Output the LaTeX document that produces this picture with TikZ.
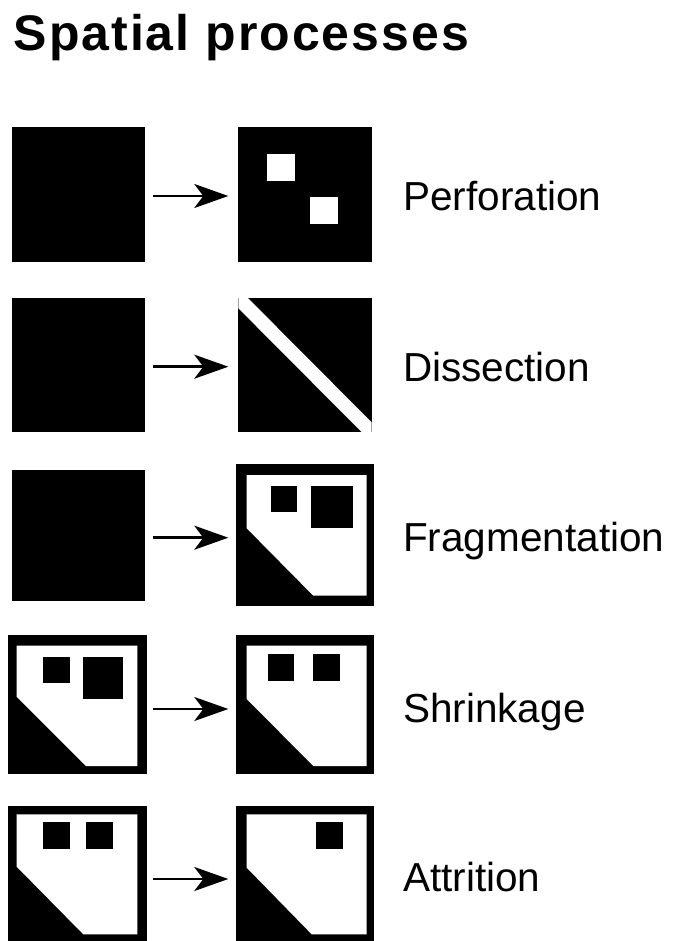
\documentclass[tikz,border=0pt]{standalone}
\usepackage{fontspec}
\setmainfont{Liberation Sans}
\usetikzlibrary{arrows.meta}

\begin{document}
\begin{tikzpicture}[x=1pt,y=-1pt,
  solidbox/.style={fill=black,draw=none,inner sep=0pt,outer sep=0pt},
  hole/.style={fill=white},
  bit/.style={fill=black},
  procarrow/.style={line width=2.6pt,-{Stealth[length=34pt,width=24pt,inset=9pt]}},
  label/.style={anchor=base west,inner sep=0pt,font=\fontsize{40.5}{48}\selectfont},
]
\useasboundingbox (0,0) rectangle (674,941);

% title
\node[anchor=base west,inner sep=0pt,
      font=\fontsize{50}{60}\selectfont\bfseries\addfontfeatures{LetterSpace=4}]
  (title) at (13.5,50.7) {Spatial processes};

% rows: y of the arrows
\coordinate (r1) at (0,196);
\coordinate (r2) at (0,366.7);
\coordinate (r3) at (0,537.7);
\coordinate (r4) at (0,709);
\coordinate (r5) at (0,879);

% ---------- Perforation ----------
\node[solidbox,minimum width=133.3pt,minimum height=134.4pt] (a1) at (78.35,194.5) {};
\node[solidbox,minimum width=134pt,minimum height=134.4pt] (b1) at (305.3,194.5) {};
\fill[hole] (267.3,154) rectangle (294.7,181);
\fill[hole] (310.3,197.3) rectangle (337.7,224);
\draw[procarrow,shorten <=7.7pt,shorten >=10pt] (a1.east |- r1) -- (b1.west |- r1);
\node[label] (l1) at (403,211) {Perforation};

% ---------- Dissection ----------
\node[solidbox,minimum width=133.3pt,minimum height=134pt] (a2) at (78.35,365.3) {};
\node[solidbox,minimum width=133.4pt,minimum height=134pt] (b2) at (305,365.3) {};
\begin{scope}
  \clip (b2.south west) rectangle (b2.north east);
  \draw[white,line width=14pt] (b2.north west) -- (b2.south east);
\end{scope}
\draw[procarrow,shorten <=7.7pt,shorten >=10pt] (a2.east |- r2) -- (b2.west |- r2);
\node[label] (l2) at (403,381.7) {Dissection};

% ---------- Fragmentation ----------
\node[solidbox,minimum width=133.3pt,minimum height=131pt] (a3) at (78.35,535.4) {};
\node[solidbox,minimum width=138.6pt,minimum height=141.4pt] (b3) at (305,535) {};
\fill[white] (246.7,475) -- (366.7,475) -- (366.7,595.7) -- (313.3,595.7)
  -- (246.7,528.3) -- cycle;
\fill[bit] (270.7,486) rectangle (296.7,512.3);
\fill[bit] (310.7,486) rectangle (352.7,528.3);
\draw[procarrow,shorten <=7.7pt,shorten >=7.4pt] (a3.east |- r3) -- (b3.west |- r3);
\node[label] (l3) at (403,551.7) {Fragmentation};

% ---------- Shrinkage ----------
\node[solidbox,minimum width=139pt,minimum height=139pt] (a4) at (77.8,704.5) {};
\fill[white] (16.7,645.7) -- (137.3,645.7) -- (137.3,766) -- (86,766)
  -- (16.7,696.7) -- cycle;
\fill[bit] (43.3,656.7) rectangle (70,683.3);
\fill[bit] (83.3,656.7) rectangle (123.3,699);
\node[solidbox,minimum width=138.6pt,minimum height=139pt] (b4) at (305,704.5) {};
\fill[white] (246.7,645.7) -- (366.7,645.7) -- (366.7,766) -- (313.3,766)
  -- (246.7,699) -- cycle;
\fill[bit] (267.7,654) rectangle (294.3,680.7);
\fill[bit] (313.3,654) rectangle (340,680.7);
\draw[procarrow,shorten <=5.4pt,shorten >=7.4pt] (a4.east |- r4) -- (b4.west |- r4);
\node[label] (l4) at (403,722) {Shrinkage};

% ---------- Attrition ----------
\node[solidbox,minimum width=139pt,minimum height=138.3pt] (a5) at (77.8,874.85) {};
\fill[white] (16.7,814.3) -- (137.3,814.3) -- (137.3,934.3) -- (83.3,934.3)
  -- (16.7,866.7) -- cycle;
\fill[bit] (43.3,822.3) rectangle (70,849);
\fill[bit] (86,822.3) rectangle (112.7,849);
\node[solidbox,minimum width=138.6pt,minimum height=138.3pt] (b5) at (305,874.85) {};
\fill[white] (246.7,814.3) -- (366.7,814.3) -- (366.7,934.3) -- (311.7,934.3)
  -- (246.7,867.7) -- cycle;
\fill[bit] (316,822.3) rectangle (342.7,849);
\draw[procarrow,shorten <=5.4pt,shorten >=7.4pt] (a5.east |- r5) -- (b5.west |- r5);
\node[label] (l5) at (403,891.7) {Attrition};
\end{tikzpicture}
\end{document}
